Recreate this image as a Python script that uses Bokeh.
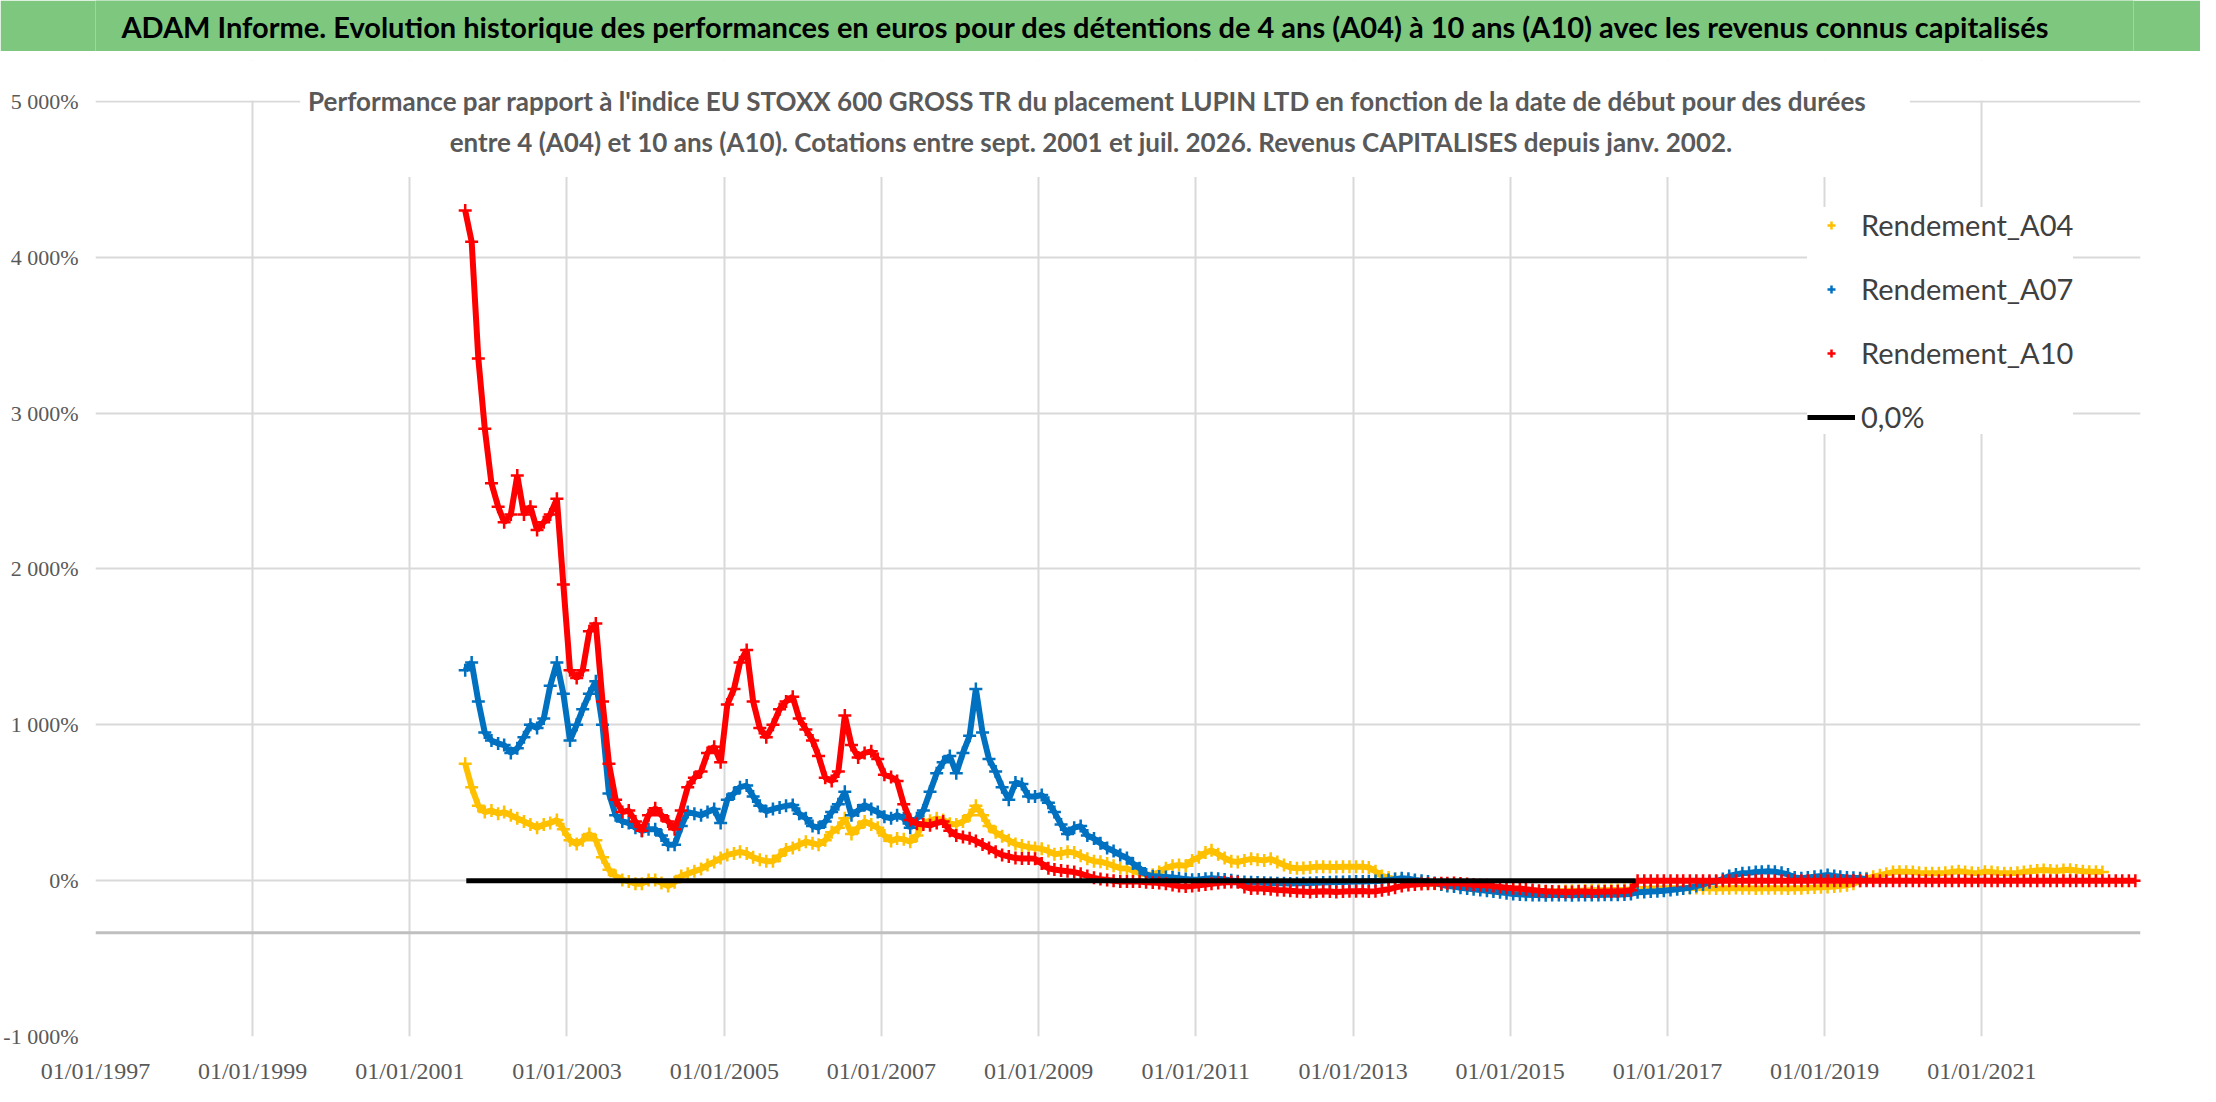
import pandas as pd
from bokeh.plotting import figure
from bokeh.layouts import column
from bokeh.models import (ColumnDataSource, Range1d, FixedTicker, DatetimeTickFormatter,
                          Span, Label, BoxAnnotation, Legend, LegendItem)
from bokeh.embed import file_html
from bokeh.resources import INLINE

FONT = "Lato"
TICK_FONT = "Liberation Sans Narrow"
GREEN = "#7DC87E"
GREY_TXT = "#595959"

TITLE = ("ADAM Informe. Evolution historique des performances en euros pour des détentions "
         "de 4 ans (A04) à 10 ans (A10) avec les revenus connus capitalisés")
SUBTITLE_1 = ("Performance par rapport à l'indice EU STOXX 600 GROSS TR  du placement LUPIN LTD "
              "en fonction de la date de début pour des durées")
SUBTITLE_2 = ("entre 4 (A04) et 10 ans (A10). Cotations entre sept. 2001 et juil. 2026. "
              "Revenus CAPITALISES depuis janv. 2002.")

y_ticks = [-1000, 0, 1000, 2000, 3000, 4000, 5000]
y_tick_labels = ["-1 000%", "0%", "1 000%", "2 000%", "3 000%", "4 000%", "5 000%"]
x_tick_dates = ["1997-01-01", "1999-01-01", "2001-01-01", "2003-01-01", "2005-01-01",
                "2007-01-01", "2009-01-01", "2011-01-01", "2013-01-01", "2015-01-01",
                "2017-01-01", "2019-01-01", "2021-01-01"]

# monthly readings (in %), first value = Sept. 2001
a04 = [
    750, 600, 480, 440,
    450, 430, 440, 420, 400, 380, 360, 340, 360, 370, 390, 330,
    260, 235, 260, 300, 260, 150, 70, 30, 5, -5, -20, -20,
    5, 5, -15, -35, -10, 30, 45, 60, 75, 100, 120, 145,
    165, 175, 185, 175, 150, 135, 125, 125, 160, 200, 210, 230,
    250, 240, 230, 260, 310, 340, 400, 300, 340, 380, 360, 340,
    290, 255, 270, 265, 250, 290, 370, 385, 400, 390, 365, 360,
    380, 420, 480, 420, 350, 310, 285, 260, 235, 225, 215, 210,
    205, 190, 170, 175, 185, 180, 160, 140, 125, 122, 110, 95,
    80, 78, 65, 47, 40, 38, 55, 80, 95, 100, 95, 130,
    150, 180, 195, 170, 145, 125, 120, 130, 140, 135, 130, 140,
    120, 100, 85, 80, 82, 85, 90, 90, 88, 88, 90, 90,
    90, 90, 85, 60, 30, 20, 10, 5, 2, -5, -12, -18,
    -20, -24, -28, -30, -35, -40, -45, -50, -55, -58, -60, -62,
    -65, -68, -70, -70, -71, -70, -70, -68, -66, -65, -64, -63,
    -62, -62, -61, -60, -60, -58, -56, -55, -52, -50, -50, -49,
    -49, -48, -48, -47, -47, -48, -49, -50, -49, -48, -47, -48,
    -49, -50, -49, -48, -48, -49, -50, -49, -48, -46, -44, -42,
    -40, -38, -35, -30, -20, 0, 15, 25, 35, 45, 55, 58,
    58, 55, 50, 48, 47, 47, 50, 55, 60, 55, 50, 48,
    58, 55, 50, 48, 47, 50, 55, 60, 65, 68, 65, 62,
    68, 70, 65, 60, 58, 58, 55,
]

a07 = [
    1350, 1400, 1150, 950,
    900, 880, 870, 820, 850, 920, 1000, 980, 1040, 1250, 1400, 1200,
    900, 1000, 1100, 1200, 1280, 1000, 560, 420, 380, 370, 340, 320,
    330, 330, 290, 230, 230, 350, 440, 430, 420, 440, 460, 370,
    520, 560, 600, 610, 540, 480, 445, 460, 470, 480, 485, 430,
    400, 350, 340, 380, 440, 490, 570, 420, 450, 485, 460, 440,
    410, 400, 420, 400, 340, 400, 450, 570, 690, 760, 800, 690,
    820, 930, 1230, 950, 780, 700, 600, 520, 630, 620, 540, 540,
    550, 500, 440, 360, 300, 340, 350, 290, 270, 240, 210, 190,
    165, 145, 110, 80, 40, 28, 26, 24, 20, 15, 10, 6,
    8, 12, 15, 12, 8, 2, -4, -8, -10, -12, -14, -15,
    -16, -17, -18, -17, -16, -15, -14, -12, -10, -9, -8, -7,
    -6, -5, -4, -2, 0, 5, 10, 15, 12, 5, 0, -5,
    -15, -25, -35, -38, -45, -50, -55, -60, -65, -70, -75, -80,
    -85, -88, -90, -92, -92, -93, -92, -92, -92, -93, -92, -92,
    -92, -92, -91, -90, -90, -88, -85, -75, -72, -70, -68, -65,
    -60, -55, -50, -45, -35, -25, -10, -5, 10, 30, 40, 48,
    50, 55, 58, 60, 58, 50, 40, 20, 15, 20, 25, 30,
    36, 30, 25, 20, 18, 15, 10,
]

a10 = [
    4300, 4100, 3350, 2900,
    2550, 2400, 2300, 2350, 2600, 2350, 2400, 2250, 2300, 2350, 2450, 1900,
    1350, 1300, 1350, 1600, 1650, 1150, 750, 520, 440, 450, 380, 320,
    420, 465, 420, 380, 330, 450, 600, 660, 700, 820, 860, 760,
    1130, 1230, 1400, 1480, 1150, 980, 920, 1000, 1100, 1150, 1180, 1040,
    970, 900, 800, 660, 640, 700, 1060, 870, 790, 820, 830, 780,
    680, 665, 640, 490, 390, 365, 360, 355, 370, 380, 320, 290,
    280, 272, 255, 232, 210, 185, 165, 155, 145, 143, 143, 140,
    110, 80, 72, 65, 60, 55, 45, 30, 18, 10, 5, 0,
    -5, -5, -6, -6, -10, -12, -15, -20, -28, -35, -38, -35,
    -30, -25, -20, -15, -10, -8, -10, -40, -50, -48, -52, -55,
    -60, -62, -65, -68, -70, -72, -70, -68, -70, -72, -70, -68,
    -68, -66, -70, -68, -62, -55, -45, -35, -28, -25, -22, -20,
    -18, -17, -16, -15, -18, -22, -26, -30, -30, -35, -40, -45,
    -48, -50, -55, -60, -64, -68, -70, -71, -72, -72, -70, -70,
    -72, -71, -70, -70, -68, -66, -62, 0, 0, 0, 0, 0,
    0, 0, 0, 0, 0, 0, 0, 0, 0, 0, 0, 0,
    0, 0, 0, 0, 0, 0, 0, 0, 0, 0, 0, 0,
    0, 0, 0, 0, 0, 0, 0, 0, 0, 0, 0, 0,
    0, 0, 0, 0, 0, 0, 0, 0, 0, 0, 0, 0,
    0, 0, 0, 0, 0, 0, 0, 0, 0, 0, 0, 0,
    0, 0, 0, 0, 0, 0, 0, 0, 0, 0, 0, 0,
]

zero_dates = ["2001-09-20", "2016-08-06"]
zero_vals = [0, 0]


def months(n):
    return pd.date_range("2001-09-01", periods=n, freq="MS") + pd.Timedelta(days=14)


def ms(d):
    return pd.Timestamp(d).value / 1e6


# ---- green title band
head = figure(width=2200, height=51, x_range=(0, 2200), y_range=(0, 1),
              toolbar_location=None, output_backend="svg",
              x_axis_location=None, y_axis_location=None, min_border=0)
head.xgrid.visible = False
head.ygrid.visible = False
head.background_fill_color = GREEN
head.border_fill_color = GREEN
head.outline_line_color = None
head.add_layout(Label(x=28, y=0.5, text=TITLE, text_align="left", text_baseline="middle",
                      text_font=FONT, text_font_style="bold", text_font_size="29px",
                      text_color="black"))

# ---- main chart (frame goes a bit above 5 000% to leave room for the subtitle)
Y_TOP = 5263
p = figure(frame_width=2045, frame_height=976, x_axis_type="datetime",
           x_range=Range1d(pd.Timestamp("1997-01-01"), pd.Timestamp("2023-01-08")),
           y_range=Range1d(-1000, Y_TOP),
           toolbar_location=None, output_backend="svg",
           min_border_left=88, min_border_right=67, min_border_top=9, min_border_bottom=50)
p.outline_line_color = None
p.background_fill_color = "white"
p.border_fill_color = "white"

p.yaxis.ticker = FixedTicker(ticks=y_ticks)
p.yaxis.major_label_overrides = dict(zip(y_ticks, y_tick_labels))
p.xaxis.ticker = FixedTicker(ticks=[ms(d) for d in x_tick_dates])
fmt = "%d/%m/%Y"
p.xaxis.formatter = DatetimeTickFormatter(years=fmt, months=fmt, days=fmt, hours=fmt)
for ax in (p.xaxis, p.yaxis):
    ax.axis_line_color = None
    ax.major_tick_line_color = None
    ax.minor_tick_line_color = None
    ax.major_tick_out = 0
    ax.major_tick_in = 0
    ax.major_label_text_font = TICK_FONT
    ax.major_label_text_color = GREY_TXT
p.xaxis.major_label_text_font_size = "24px"
p.yaxis.major_label_text_font_size = "22px"
p.yaxis.major_label_standoff = 17
p.xaxis.major_label_standoff = 21

p.xgrid.grid_line_color = "#d9d9d9"
p.ygrid.grid_line_color = "#d9d9d9"
p.xgrid.grid_line_width = 2
p.ygrid.grid_line_width = 2

# horizontal axis line (crosses below zero)
p.add_layout(Span(location=-335, dimension="width", line_color="#bfbfbf", line_width=3))

series = [("Rendement_A04", a04, "#FFC000"),
          ("Rendement_A07", a07, "#0070C0"),
          ("Rendement_A10", a10, "#FF0000")]
items = []
for name, vals, col in series:
    src = ColumnDataSource(dict(date=months(len(vals)), val=vals))
    p.line("date", "val", source=src, line_color=col, line_width=6)
    r = p.scatter("date", "val", source=src, marker="cross", size=13,
                  line_color=col, line_width=2.5)
    items.append(LegendItem(label=name, renderers=[r]))

zr = p.line(x=pd.to_datetime(zero_dates), y=zero_vals, line_color="black", line_width=5)
items.append(LegendItem(label="0,0%", renderers=[zr]))

# blank strip above 5 000% and white area behind the chart subtitle
p.add_layout(BoxAnnotation(bottom=5007, top=Y_TOP, fill_color="white", fill_alpha=1,
                           line_color=None))
p.add_layout(BoxAnnotation(left=ms("1999-08-10"), right=ms("2020-02-01"), bottom=4516, top=Y_TOP,
                           fill_color="white", fill_alpha=1, line_color=None))
sub_x = ms("2009-09-01")
for txt, yv in ((SUBTITLE_1, 5000), (SUBTITLE_2, 4743)):
    p.add_layout(Label(x=sub_x, y=yv, text=txt, text_align="center", text_baseline="middle",
                       text_font=FONT, text_font_style="bold", text_font_size="26px",
                       text_color=GREY_TXT))

legend = Legend(items=items, location=(1712, 602), orientation="vertical",
                label_text_font=FONT, label_text_font_size="29px", label_text_color="#404040",
                glyph_width=48, glyph_height=20, label_height=34, label_standoff=6,
                spacing=29, padding=40, border_line_color=None,
                background_fill_color="white", background_fill_alpha=1)
p.add_layout(legend)

layout = column(head, p, spacing=0)
open("out.html", "w").write(file_html(layout, INLINE))
